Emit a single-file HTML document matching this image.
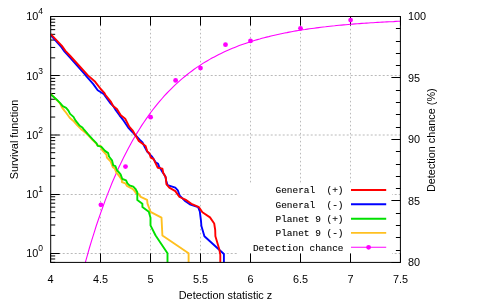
<!DOCTYPE html><html><head><meta charset="utf-8"><style>html,body{margin:0;padding:0;background:#fff}svg{display:block;will-change:transform}text{font-family:"Liberation Sans",sans-serif;font-size:10.85px;fill:#000}.m{font-family:"Liberation Mono",monospace;font-size:9.45px;stroke:#000;stroke-width:0.1px}</style></head><body>
<svg width="478" height="307" viewBox="0 0 478 307">
<rect width="478" height="307" fill="#fff"/>
<g stroke="#bababa" stroke-width="1" stroke-dasharray="2,2" fill="none">
<path d="M50.7,253.50H400.4"/>
<path d="M50.7,194.50H400.4"/>
<path d="M50.7,135.00H400.4"/>
<path d="M50.7,75.50H400.4"/>
<path d="M100.5,262.4V16.5" stroke-dasharray="1.6,2.4"/>
<path d="M150.5,262.4V16.5" stroke-dasharray="1.6,2.4"/>
<path d="M200.5,262.4V16.5" stroke-dasharray="1.6,2.4"/>
<path d="M250.5,262.4V16.5" stroke-dasharray="1.6,2.4"/>
<path d="M300.5,262.4V16.5" stroke-dasharray="1.6,2.4"/>
<path d="M350.5,262.4V16.5" stroke-dasharray="1.6,2.4"/>
</g>
<rect x="238" y="183" width="154" height="72" fill="#fff"/>
<g stroke="#000" stroke-width="1" fill="none">
<path d="M50.7,262.40h4.5"/>
<path d="M50.7,258.97h4.5"/>
<path d="M50.7,255.94h4.5"/>
<path d="M50.7,253.50h9"/>
<path d="M50.7,235.42h4.5"/>
<path d="M50.7,224.99h4.5"/>
<path d="M50.7,217.60h4.5"/>
<path d="M50.7,211.87h4.5"/>
<path d="M50.7,207.18h4.5"/>
<path d="M50.7,203.22h4.5"/>
<path d="M50.7,199.78h4.5"/>
<path d="M50.7,196.76h4.5"/>
<path d="M50.7,194.50h9"/>
<path d="M50.7,176.23h4.5"/>
<path d="M50.7,165.81h4.5"/>
<path d="M50.7,158.42h4.5"/>
<path d="M50.7,152.68h4.5"/>
<path d="M50.7,148.00h4.5"/>
<path d="M50.7,144.03h4.5"/>
<path d="M50.7,140.60h4.5"/>
<path d="M50.7,137.57h4.5"/>
<path d="M50.7,135.00h9"/>
<path d="M50.7,117.05h4.5"/>
<path d="M50.7,106.63h4.5"/>
<path d="M50.7,99.23h4.5"/>
<path d="M50.7,93.50h4.5"/>
<path d="M50.7,88.81h4.5"/>
<path d="M50.7,84.85h4.5"/>
<path d="M50.7,81.42h4.5"/>
<path d="M50.7,78.39h4.5"/>
<path d="M50.7,75.50h9"/>
<path d="M50.7,57.87h4.5"/>
<path d="M50.7,47.45h4.5"/>
<path d="M50.7,40.05h4.5"/>
<path d="M50.7,34.32h4.5"/>
<path d="M50.7,29.63h4.5"/>
<path d="M50.7,25.67h4.5"/>
<path d="M50.7,22.24h4.5"/>
<path d="M50.7,19.21h4.5"/>
<path d="M50.7,16.50h9"/>
<path d="M50.5,262.4v-9"/>
<path d="M50.5,16.5v9"/>
<path d="M100.5,262.4v-9"/>
<path d="M100.5,16.5v9"/>
<path d="M150.5,262.4v-9"/>
<path d="M150.5,16.5v9"/>
<path d="M200.5,262.4v-9"/>
<path d="M200.5,16.5v9"/>
<path d="M250.5,262.4v-9"/>
<path d="M250.5,16.5v9"/>
<path d="M300.5,262.4v-9"/>
<path d="M300.5,16.5v9"/>
<path d="M350.5,262.4v-9"/>
<path d="M350.5,16.5v9"/>
<path d="M400.5,262.4v-9"/>
<path d="M400.5,16.5v9"/>
<path d="M400.4,262.50h-9"/>
<path d="M400.4,250.50h-4.5"/>
<path d="M400.4,237.50h-4.5"/>
<path d="M400.4,225.50h-4.5"/>
<path d="M400.4,213.50h-4.5"/>
<path d="M400.4,200.50h-9"/>
<path d="M400.4,188.50h-4.5"/>
<path d="M400.4,176.50h-4.5"/>
<path d="M400.4,164.50h-4.5"/>
<path d="M400.4,151.50h-4.5"/>
<path d="M400.4,139.50h-9"/>
<path d="M400.4,127.50h-4.5"/>
<path d="M400.4,114.50h-4.5"/>
<path d="M400.4,102.50h-4.5"/>
<path d="M400.4,90.50h-4.5"/>
<path d="M400.4,77.50h-9"/>
<path d="M400.4,65.50h-4.5"/>
<path d="M400.4,53.50h-4.5"/>
<path d="M400.4,41.50h-4.5"/>
<path d="M400.4,28.50h-4.5"/>
<path d="M400.4,16.50h-9"/>
</g>
<clipPath id="c"><rect x="50.7" y="16.5" width="349.7" height="246.2"/></clipPath><g clip-path="url(#c)">
<polyline points="84.9,264.0 87.2,255.8 89.4,248.0 91.7,240.4 94.0,233.1 96.2,226.0 98.5,219.2 100.8,212.6 103.1,206.2 105.3,200.1 107.6,194.1 109.9,188.4 112.1,182.8 114.4,177.5 116.7,172.3 118.9,167.3 121.2,162.4 123.5,157.8 125.8,153.3 128.0,148.9 130.3,144.7 132.6,140.6 134.8,136.7 137.1,132.9 139.4,129.2 141.6,125.6 143.9,122.2 146.2,118.9 148.5,115.6 150.7,112.5 153.0,109.5 155.3,106.6 157.5,103.8 159.8,101.1 162.1,98.5 164.3,95.9 166.6,93.5 168.9,91.1 171.2,88.8 173.4,86.6 175.7,84.4 178.0,82.3 180.2,80.3 182.5,78.4 184.8,76.5 187.0,74.7 189.3,72.9 191.6,71.2 193.8,69.5 196.1,67.9 198.4,66.4 200.7,64.9 202.9,63.4 205.2,62.0 207.5,60.7 209.7,59.4 212.0,58.1 214.3,56.9 216.5,55.7 218.8,54.5 221.1,53.4 223.4,52.3 225.6,51.3 227.9,50.3 230.2,49.3 232.4,48.3 234.7,47.4 237.0,46.5 239.2,45.6 241.5,44.8 243.8,44.0 246.1,43.2 248.3,42.4 250.6,41.7 252.9,41.0 255.1,40.3 257.4,39.6 259.7,39.0 261.9,38.3 264.2,37.7 266.5,37.1 268.8,36.6 271.0,36.0 273.3,35.5 275.6,35.0 277.8,34.5 280.1,34.0 282.4,33.5 284.6,33.0 286.9,32.6 289.2,32.1 291.5,31.7 293.7,31.3 296.0,30.9 298.3,30.5 300.5,30.2 302.8,29.8 305.1,29.5 307.3,29.1 309.6,28.8 311.9,28.5 314.1,28.2 316.4,27.9 318.7,27.6 321.0,27.3 323.2,27.0 325.5,26.8 327.8,26.5 330.0,26.2 332.3,26.0 334.6,25.8 336.8,25.5 339.1,25.3 341.4,25.1 343.7,24.9 345.9,24.7 348.2,24.5 350.5,24.3 352.7,24.1 355.0,23.9 357.3,23.8 359.5,23.6 361.8,23.4 364.1,23.3 366.4,23.1 368.6,23.0 370.9,22.8 373.2,22.7 375.4,22.5 377.7,22.4 380.0,22.3 382.2,22.1 384.5,22.0 386.8,21.9 389.1,21.8 391.3,21.7 393.6,21.6 395.9,21.4 398.1,21.3 400.4,21.2" fill="none" stroke="#ff00ff" stroke-width="1.1"/>
<circle cx="100.9" cy="204.8" r="2.4" fill="#ff00ff"/>
<circle cx="125.5" cy="166.6" r="2.4" fill="#ff00ff"/>
<circle cx="150.6" cy="117.2" r="2.4" fill="#ff00ff"/>
<circle cx="175.6" cy="80.4" r="2.4" fill="#ff00ff"/>
<circle cx="200.5" cy="68.1" r="2.4" fill="#ff00ff"/>
<circle cx="225.5" cy="44.7" r="2.4" fill="#ff00ff"/>
<circle cx="250.5" cy="40.9" r="2.4" fill="#ff00ff"/>
<circle cx="300.5" cy="28.3" r="2.4" fill="#ff00ff"/>
<circle cx="350.6" cy="20.1" r="2.4" fill="#ff00ff"/>
<polyline points="50.7,35.2 61.2,46.9 64.6,51.6 69.4,56.9 85.8,75.4 86.7,76.7 93.1,83.9 97.7,90.3 103.7,94.0 108.0,100.0 110.2,103.0 113.2,106.0 115.8,110.2 119.5,115.3 123.5,120.5 128.2,127.6 132.4,132.0 134.5,134.5 136.2,135.8 139.6,139.6 142.5,142.5 144.5,146.5 147.0,151.3 149.3,153.8 151.8,156.3 155.6,162.2 158.1,163.9 159.0,166.4 160.7,169.0 162.4,172.0 165.3,176.2 166.2,180.8 167.6,185.2 175.3,187.7 177.8,190.3 179.5,195.3 185.4,201.3 190.5,204.7 198.1,207.2 199.8,211.4 201.0,220.8 201.4,226.0 204.4,236.2 223.9,254.0 223.9,262.4" fill="none" stroke="#0000ff" stroke-width="1.9" stroke-linejoin="round"/>
<polyline points="50.7,34.2 61.9,45.9 65.4,50.8 70.3,56.0 87.9,75.4 95.2,81.8 100.7,89.0 104.5,93.2 105.5,95.0 111.0,101.8 113.1,106.0 116.9,109.0 120.8,115.3 125.2,118.8 129.4,126.9 132.8,130.7 135.4,135.3 138.8,140.9 145.6,146.0 147.3,151.5 149.4,153.2 150.7,157.5 151.4,158.0 153.5,158.8 157.7,167.7 162.4,168.6 163.2,172.8 165.8,177.5 166.4,184.2 169.3,187.7 175.3,191.1 179.5,197.0 185.4,199.6 191.4,203.8 199.0,207.2 202.4,212.3 210.0,217.4 214.2,223.5 215.2,230.0 215.4,236.2 219.2,248.9 220.3,254.8 220.3,262.4" fill="none" stroke="#ff0000" stroke-width="1.9" stroke-linejoin="round"/>
<polyline points="50.7,93.8 56.6,99.9 60.0,103.3 61.9,107.4 64.8,111.2 65.4,111.8 69.7,117.7 73.1,120.7 77.3,125.4 81.1,129.2 83.4,131.0 87.8,134.8 92.4,139.8 96.3,143.7 97.6,145.6 100.4,145.8 102.1,150.0 106.5,154.8 106.9,157.7 110.7,161.6 112.8,167.1 114.7,168.4 116.4,172.7 119.3,176.1 121.9,179.9 121.9,182.0 125.3,183.3 126.9,185.8 131.6,188.3 133.5,189.7 136.1,193.1 138.6,193.9 140.7,196.9 147.1,199.9 147.5,203.7 150.2,210.9 150.5,211.8 161.5,217.7 162.4,235.5 188.6,253.3 188.6,262.4" fill="none" stroke="#ffc020" stroke-width="1.9" stroke-linejoin="round"/>
<polyline points="50.7,94.2 56.8,99.7 60.2,103.1 62.7,106.1 66.1,107.8 68.2,110.3 70.1,113.9 73.5,116.9 75.6,120.7 79.8,125.8 82.4,127.5 83.8,129.3 88.1,134.4 92.7,139.4 96.6,143.3 97.8,145.8 101.2,146.6 105.0,150.9 108.2,153.1 109.0,156.5 112.0,160.3 113.3,165.4 115.4,166.2 117.1,170.5 118.5,171.8 120.6,174.4 122.3,179.0 126.1,180.3 127.4,183.3 129.5,185.4 133.3,186.6 135.4,188.8 137.3,192.2 137.3,199.9 142.4,203.7 142.4,207.1 148.8,211.8 150.5,217.7 150.5,225.3 155.6,235.5 167.5,253.3 167.5,262.4" fill="none" stroke="#00e000" stroke-width="1.9" stroke-linejoin="round"/>
</g>
<rect x="50.7" y="16.5" width="349.7" height="245.89999999999998" fill="none" stroke="#000" stroke-width="1"/>
<text class="m" x="343.5" y="193.2" text-anchor="end" xml:space="preserve">General  (+)</text>
<path d="M351,190.0H386.2" stroke="#ff0000" stroke-width="1.9" fill="none"/>
<text class="m" x="343.5" y="207.5" text-anchor="end" xml:space="preserve">General  (-)</text>
<path d="M351,204.3H386.2" stroke="#0000ff" stroke-width="1.9" fill="none"/>
<text class="m" x="343.5" y="221.9" text-anchor="end" xml:space="preserve">Planet 9 (+)</text>
<path d="M351,218.7H386.2" stroke="#00e000" stroke-width="1.9" fill="none"/>
<text class="m" x="343.5" y="236.1" text-anchor="end" xml:space="preserve">Planet 9 (-)</text>
<path d="M351,232.9H386.2" stroke="#ffc020" stroke-width="1.9" fill="none"/>
<text class="m" x="343.5" y="250.5" text-anchor="end" xml:space="preserve">Detection chance</text>
<path d="M351,247.3H386.2" stroke="#ff00ff" stroke-width="1.1" fill="none"/>
<circle cx="368.6" cy="247.3" r="2.4" fill="#ff00ff"/>
<text x="38.3" y="257" text-anchor="end">10</text><text x="38.2" y="251.4" style="font-size:8.5px">0</text>
<text x="38.3" y="198" text-anchor="end">10</text><text x="38.2" y="192.4" style="font-size:8.5px">1</text>
<text x="38.3" y="139" text-anchor="end">10</text><text x="38.2" y="133.4" style="font-size:8.5px">2</text>
<text x="38.3" y="80" text-anchor="end">10</text><text x="38.2" y="74.4" style="font-size:8.5px">3</text>
<text x="38.3" y="20" text-anchor="end">10</text><text x="38.2" y="14.4" style="font-size:8.5px">4</text>
<text x="50.5" y="282.5" text-anchor="middle">4</text>
<text x="100.5" y="282.5" text-anchor="middle">4.5</text>
<text x="150.5" y="282.5" text-anchor="middle">5</text>
<text x="200.5" y="282.5" text-anchor="middle">5.5</text>
<text x="250.5" y="282.5" text-anchor="middle">6</text>
<text x="300.5" y="282.5" text-anchor="middle">6.5</text>
<text x="350.5" y="282.5" text-anchor="middle">7</text>
<text x="400.5" y="282.5" text-anchor="middle">7.5</text>
<text x="408" y="266">80</text>
<text x="408" y="205">85</text>
<text x="408" y="143">90</text>
<text x="408" y="82">95</text>
<text x="408" y="20">100</text>
<text x="225.5" y="298.6" text-anchor="middle">Detection statistic z</text>
<text transform="translate(18,139.5) rotate(-90)" text-anchor="middle">Survival function</text>
<text transform="translate(435,140.2) rotate(-90)" text-anchor="middle">Detection chance (%)</text>
</svg></body></html>
